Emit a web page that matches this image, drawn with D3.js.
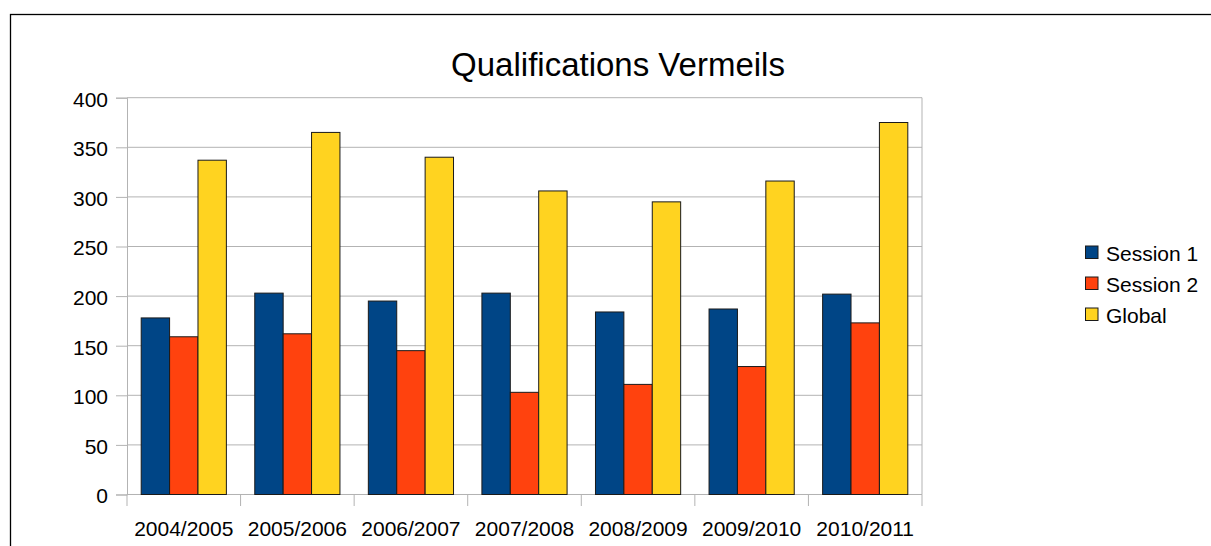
<!DOCTYPE html>
<html>
<head>
<meta charset="utf-8">
<script src="https://cdn.jsdelivr.net/npm/d3@7"></script>
<style>
  body { margin: 0; background: #fff; }
  text { font-family: "Liberation Sans", Arial, sans-serif; fill: #000; }
</style>
</head>
<body>
<div id="chart"></div>
<script>
// data
const seasons = ["2004/2005", "2005/2006", "2006/2007", "2007/2008", "2008/2009", "2009/2010", "2010/2011"];
const session1 = [178, 203, 195, 203, 184, 187, 202];
const session2 = [159, 162, 145, 103, 111, 129, 173];
const globalTotal = [337, 365, 340, 306, 295, 316, 375];
const seriesNames = ["Session 1", "Session 2", "Global"];
const yTicks = [0, 50, 100, 150, 200, 250, 300, 350, 400];

const colors = ["#004586", "#ff420e", "#ffd320"];

const svgWidth = 1211;
const svgHeight = 546;
const margin = { top: 97.7, right: 289, bottom: 51.5, left: 127 };
const chartWidth = svgWidth - margin.left - margin.right;
const chartHeight = svgHeight - margin.top - margin.bottom;

const svg = d3.select("#chart")
  .append("svg")
  .attr("width", svgWidth)
  .attr("height", svgHeight);

// outer frame (only top and left are visible in the picture)
svg.append("rect")
  .attr("x", 10.5)
  .attr("y", 14.5)
  .attr("width", 1210)
  .attr("height", 600)
  .attr("fill", "none")
  .attr("stroke", "#000")
  .attr("stroke-width", 1.3);

const chartGroup = svg.append("g")
  .attr("transform", `translate(${margin.left},${margin.top})`);

const x0 = d3.scaleBand()
  .domain(seasons)
  .range([0, chartWidth])
  .paddingInner(0.25)
  .paddingOuter(0.125);

const x1 = d3.scaleBand()
  .domain(seriesNames)
  .range([0, x0.bandwidth()]);

const yScale = d3.scaleLinear()
  .domain([0, 400])
  .range([chartHeight, 0]);

// grid lines
chartGroup.append("g")
  .selectAll("line")
  .data(yTicks)
  .enter()
  .append("line")
  .attr("x1", 0)
  .attr("x2", chartWidth)
  .attr("y1", d => yScale(d))
  .attr("y2", d => yScale(d))
  .attr("stroke", "#b3b3b3")
  .attr("stroke-width", 1);

// right edge of plot
chartGroup.append("line")
  .attr("x1", chartWidth).attr("x2", chartWidth)
  .attr("y1", 0).attr("y2", chartHeight)
  .attr("stroke", "#b3b3b3");

// left axis
const leftAxis = d3.axisLeft(yScale)
  .tickValues(yTicks)
  .tickSize(11)
  .tickPadding(8);

const yAxisG = chartGroup.append("g").call(leftAxis);
yAxisG.select(".domain").attr("stroke", "#b3b3b3");
yAxisG.selectAll(".tick line").attr("stroke", "#b3b3b3");
yAxisG.selectAll(".tick text")
  .attr("font-size", "21px")
  .attr("font-family", "Liberation Sans, Arial, sans-serif")
  .attr("fill", "#000")
  .attr("dy", "0.4em");

// bottom axis: ticks at category boundaries
const step = x0.step();
const boundaries = d3.range(seasons.length + 1).map(i => i * step);
const xAxisG = chartGroup.append("g")
  .attr("transform", `translate(0, ${chartHeight})`);
xAxisG.append("line")
  .attr("x1", 0).attr("x2", chartWidth)
  .attr("stroke", "#b3b3b3");
xAxisG.selectAll(".btick")
  .data(boundaries)
  .enter()
  .append("line")
  .attr("class", "btick")
  .attr("x1", d => d).attr("x2", d => d)
  .attr("y1", 0).attr("y2", 11.5)
  .attr("stroke", "#b3b3b3");
xAxisG.selectAll(".xlabel")
  .data(seasons)
  .enter()
  .append("text")
  .attr("class", "xlabel")
  .attr("x", d => x0(d) + x0.bandwidth() / 2)
  .attr("y", 41.5)
  .attr("text-anchor", "middle")
  .attr("font-size", "21px")
  .text(d => d);

// bars
const rows = seasons.map((s, i) => ({
  season: s,
  values: [session1[i], session2[i], globalTotal[i]]
}));

const groups = chartGroup.append("g")
  .selectAll("g")
  .data(rows)
  .enter()
  .append("g")
  .attr("transform", d => `translate(${x0(d.season)},0)`);

groups.selectAll("rect")
  .data(d => d.values.map((v, j) => ({ name: seriesNames[j], value: v, j: j })))
  .enter()
  .append("rect")
  .attr("x", d => x1(d.name))
  .attr("y", d => yScale(d.value))
  .attr("width", x1.bandwidth())
  .attr("height", d => chartHeight - yScale(d.value))
  .attr("fill", d => colors[d.j])
  .attr("stroke", "#1a1a1a")
  .attr("stroke-width", 1);

// title
svg.append("text")
  .attr("x", 618)
  .attr("y", 76)
  .attr("text-anchor", "middle")
  .attr("font-size", "33px")
  .text("Qualifications Vermeils");

// legend
const legend = svg.append("g")
  .attr("transform", "translate(1085.5, 246)");

const legendItems = legend.selectAll("g")
  .data(seriesNames)
  .enter()
  .append("g")
  .attr("transform", (d, i) => `translate(0, ${i * 31})`);

legendItems.append("rect")
  .attr("width", 12.5)
  .attr("height", 12.5)
  .attr("fill", (d, i) => colors[i])
  .attr("stroke", "#1a1a1a")
  .attr("stroke-width", 1);

legendItems.append("text")
  .attr("x", 20.5)
  .attr("y", 14.5)
  .attr("font-size", "21px")
  .text(d => d);
</script>
</body>
</html>
